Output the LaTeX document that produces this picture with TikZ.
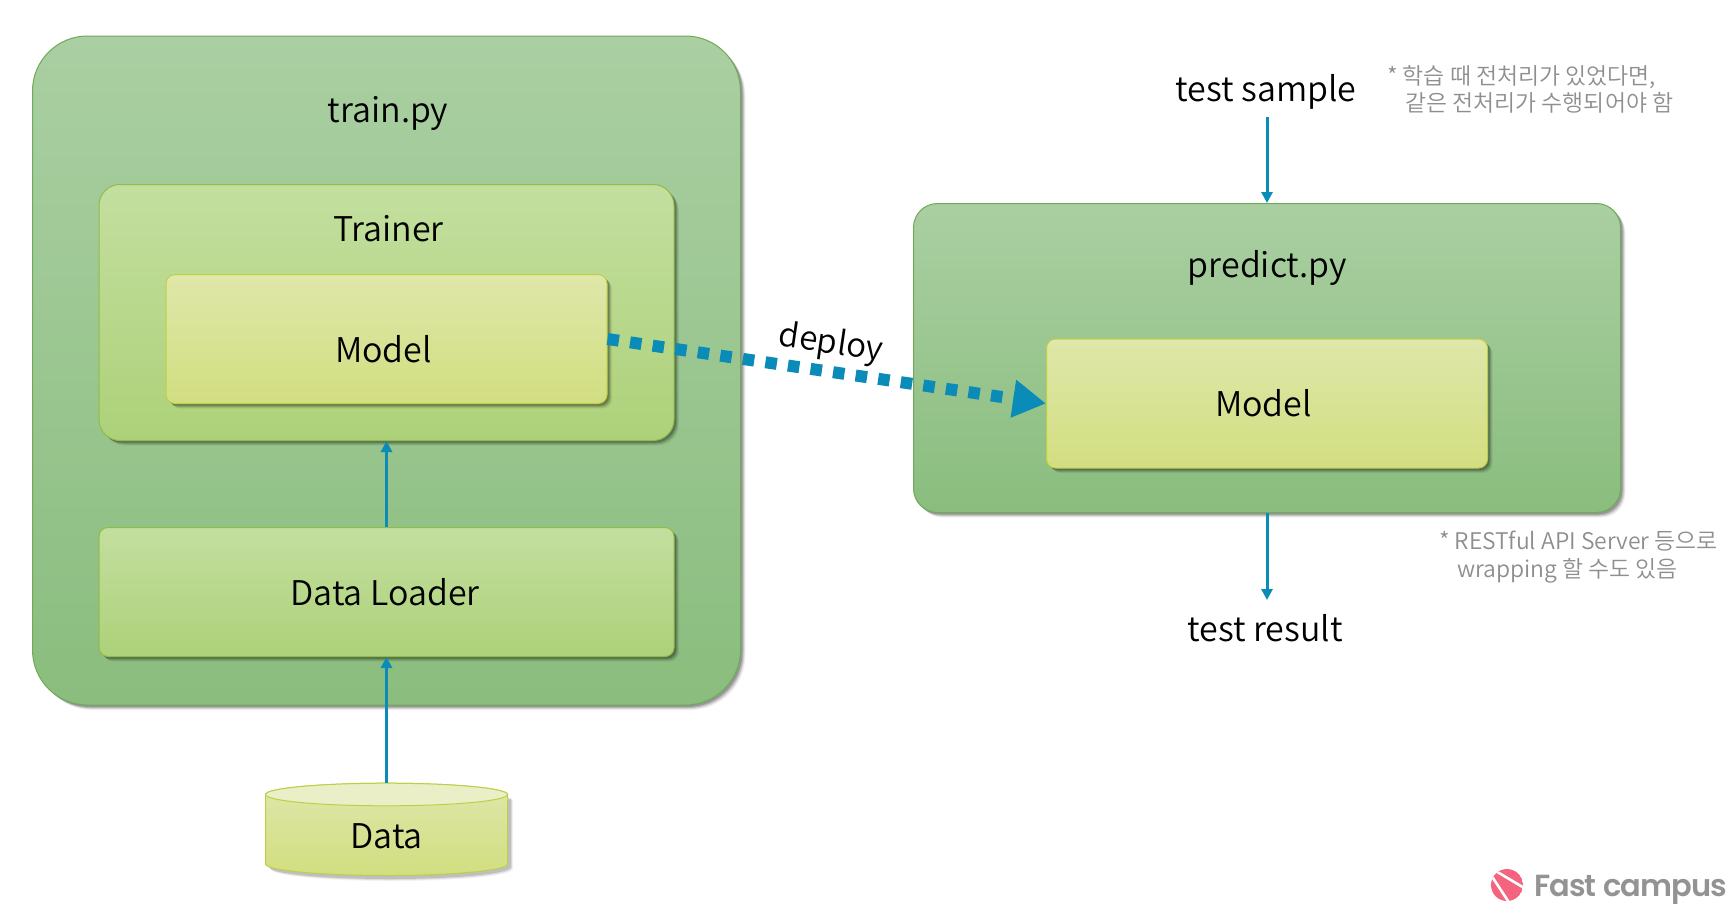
\documentclass[tikz,border=0pt]{standalone}
\usepackage{fontspec}
\setmainfont{Noto Sans CJK KR DemiLight}
\newfontfamily\logofont{Poppins}[BoldFont=* SemiBold,LetterSpace=-3]
\usetikzlibrary{shadows,arrows.meta,calc}
\definecolor{flow}{HTML}{0B8BB8}
\definecolor{notegray}{HTML}{8E8E8E}
\tikzset{
  softshadow/.style={
    general shadow={shadow xshift=5pt,shadow yshift=-5pt,fill=black,opacity=.06},
    general shadow={shadow xshift=4pt,shadow yshift=-4pt,fill=black,opacity=.10},
    general shadow={shadow xshift=3pt,shadow yshift=-3pt,fill=black,opacity=.14},
    general shadow={shadow xshift=2pt,shadow yshift=-2pt,fill=black,opacity=.18}},
  box/.style={rectangle,inner sep=0pt,line width=1pt,softshadow},
  outerbox/.style={box,draw=outerline,top color=outertop,bottom color=outerbot},
  midbox/.style={box,draw=midline,top color=midtop,bottom color=midbot},
  innerbox/.style={box,draw=innerline,top color=innertop,bottom color=innerbot,rounded corners=9pt},
  title/.style={font=\fontsize{34}{40}\selectfont,text=black,inner sep=0pt},
  note/.style={font=\fontsize{22.9}{27.5}\selectfont,text=notegray,inner sep=0pt,anchor=north west,align=left},
  flowarrow/.style={draw=flow,line width=3pt,-{Triangle[length=11pt,width=11pt]}},
}
\definecolor{outertop}{HTML}{AACFA2}
\definecolor{outerbot}{HTML}{8ABD7E}
\definecolor{outerline}{HTML}{6FAA58}
\definecolor{midtop}{HTML}{C3DF9F}
\definecolor{midbot}{HTML}{ADD179}
\definecolor{midline}{HTML}{8FBC45}
\definecolor{innertop}{HTML}{DFE7AA}
\definecolor{innerbot}{HTML}{D2DE80}
\definecolor{innerline}{HTML}{BFCF45}
\definecolor{logopink}{HTML}{F4647F}
\begin{document}
\begin{tikzpicture}[x=1pt,y=-1pt]
\useasboundingbox[fill=white] (0,0) rectangle (1731,903);
% boxes
\node[outerbox,rounded corners=55pt,minimum width=708pt,minimum height=669pt] (trainbox) at (386.5,370.5) {};
\node[midbox,rounded corners=21pt,minimum width=575pt,minimum height=256pt] (trainer) at (386.5,312.5) {};
\node[innerbox,minimum width=441pt,minimum height=129pt] (modela) at (386.5,339) {};
\node[midbox,rounded corners=9pt,minimum width=575pt,minimum height=129pt] (loader) at (386.5,592) {};
\node[outerbox,rounded corners=24pt,minimum width=707pt,minimum height=309pt] (predict) at (1267,358) {};
\node[innerbox,minimum width=441pt,minimum height=129pt] (modelb) at (1267,403.5) {};
% cylinder
\node[minimum width=242pt,minimum height=93pt,inner sep=0pt] (data) at (386.5,829.5) {};
\path[fill=black,opacity=.05] (271,800) -- (513,800) -- (513,869) arc[start angle=0,end angle=-180,x radius=121pt,y radius=12pt] -- cycle;
\path[fill=black,opacity=.09] (270,799) -- (512,799) -- (512,868) arc[start angle=0,end angle=-180,x radius=121pt,y radius=12pt] -- cycle;
\path[fill=black,opacity=.13] (269,798) -- (511,798) -- (511,867) arc[start angle=0,end angle=-180,x radius=121pt,y radius=12pt] -- cycle;
\shade[top color=innertop,bottom color=innerbot,draw=innerline,line width=1pt]
  (265.5,794.5) -- (265.5,864) arc[start angle=180,end angle=360,x radius=121pt,y radius=11.5pt] -- (507.5,794.5) arc[start angle=0,end angle=180,x radius=121pt,y radius=11.3pt] -- cycle;
\path[fill=innertop!65!white,draw=innerline,line width=1pt] (386.5,794.5) ellipse[x radius=121pt,y radius=11.3pt];
% free ends
\coordinate (samplefoot) at (1267,117);
\coordinate (resultfoot) at (1267,600);
% connectors
\draw[flowarrow] (loader.north) -- (trainer.south);
\draw[flowarrow] (data.north) -- (loader.south);
\draw[flowarrow] (samplefoot) -- (predict.north);
\draw[flowarrow] (predict.south) -- (resultfoot);
\draw[draw=flow,line width=12pt,dash pattern=on 11.5pt off 11.3pt,-{Triangle[length=33pt,width=36pt]}] (modela.east) -- (modelb.west);
% labels
\node[title] (ltrain) at (388,113) {train.py};
\node[title] (ltrainer) at (388.5,229) {Trainer};
\node[title] (lmodela) at (383.5,349) {Model};
\node[title] (lloader) at (385,592) {Data Loader};
\node[title] (ldata) at (386.5,836) {Data};
\node[title] (lpredict) at (1267.5,268) {predict.py};
\node[title] (lmodelb) at (1263.5,403) {Model};
\node[title] (lsample) at (1266,92) {test sample};
\node[title] (lresult) at (1265,628) {test result};
\node[title,font=\fontsize{33}{40}\selectfont,rotate=-8.3] (ldeploy) at (831,344) {deploy};
\node[note] (notea) at (1387,65) {* 학습 때 전처리가 있었다면,\\\hspace*{18pt}같은 전처리가 수행되어야 함};
\node[note] (noteb) at (1439,531) {* RESTful API Server 등으로\\\hspace*{18pt}wrapping 할 수도 있음};
% logo
\begin{scope}
\clip (1507,885) circle[radius=16];
\fill[logopink] (1507,885) circle[radius=16];
\draw[white,line width=2.6pt] (1494,870) -- (1526,889);
\draw[white,line width=2.6pt] (1491,875) -- (1510,904);
\end{scope}
\node[inner sep=0pt,anchor=base west,text=gray!85!white,font=\logofont\bfseries\fontsize{30.5}{36}\selectfont] (logotext) at (1534,896) {Fast campus};
\end{tikzpicture}
\end{document}
